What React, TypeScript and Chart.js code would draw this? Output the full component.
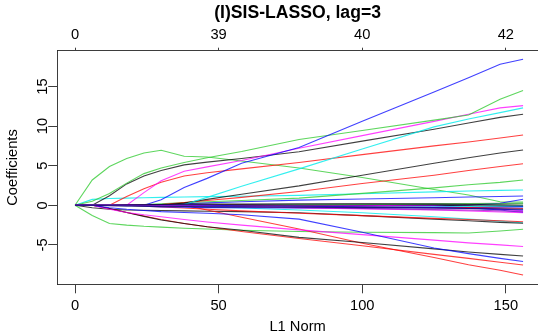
import { useEffect, useRef } from 'react';
import { Chart, registerables } from 'chart.js';

Chart.register(...registerables);

// L1 norm knots of the coefficient path
const L1_NORM = [0, 6, 12, 18, 24, 30, 38, 46, 58, 78, 100, 125, 137, 148, 156];

const X_TICKS = [0, 50, 100, 150];
const DF_LABELS = ['0', '39', '40', '42'];
const Y_TICKS = [-5, 0, 5, 10, 15];
const TITLE = '(I)SIS-LASSO, lag=3';
const X_LABEL = 'L1 Norm';
const Y_LABEL = 'Coefficients';

// positive paths
const BLUE_1 = [0, 0, 0, 0, 0, 0.7, 2.25, 3.4, 5.3, 7.3, 10.6, 14.3, 16.1, 17.8, 18.45];
const GREEN_1 = [0, 0.5, 1.5, 2.8, 4.0, 4.7, 5.4, 6.0, 6.8, 8.3, 9.45, 10.75, 11.4, 13.4, 14.5];
const MAGENTA_1 = [0, 0, 0, 0, 1.6, 3.1, 4.3, 4.85, 5.65, 7.2, 8.8, 10.6, 11.5, 12.3, 12.58];
const CYAN_1 = [0, 0, 0, 0, 0, 0, 0.1, 1.0, 2.4, 4.6, 7.1, 9.9, 10.9, 11.7, 12.3];
const BLACK_1 = [0, 0, 1.2, 2.7, 3.7, 4.4, 5.1, 5.45, 5.9, 6.77, 8.1, 9.6, 10.4, 11.1, 11.49];
const RED_1 = [0, 0, 0, 1.1, 2.1, 2.9, 3.7, 4.1, 4.6, 5.4, 6.4, 7.5, 8.0, 8.5, 8.88];
const BLACK_2 = [0, 0, 0, 0, 0, 0, 0.3, 0.75, 1.4, 2.45, 3.8, 5.3, 6.0, 6.6, 6.98];
const RED_2 = [0, 0, 0, 0, 0, 0.1, 0.35, 0.6, 1.0, 1.75, 2.75, 3.8, 4.4, 4.9, 5.25];
const GREEN_2 = [0, 0, 0, 0, 0.1, 0.2, 0.35, 0.45, 0.6, 0.9, 1.5, 2.2, 2.6, 2.9, 3.19];
const CYAN_2 = [0, 0.75, 0.85, 0.9, 0.95, 1.0, 1.05, 1.1, 1.15, 1.25, 1.45, 1.7, 1.8, 1.88, 1.93];
const BLUE_2 = [0, 0, 0, 0, 0, 0.1, 0.2, 0.3, 0.45, 0.65, 0.8, 0.95, 1.05, 1.12, 1.17];
const BLUE_3 = [0, 0, 0, 0, 0, 0, 0, 0, 0, 0, 0, 0, 0, 0.25, 0.76];
const GREEN_3 = [0, 3.2, 4.9, 5.9, 6.6, 6.95, 6.2, 6.1, 5.6, 4.7, 3.5, 2.0, 1.3, 0.45, 0.4];
const GRAY_1 = [0, 0, 0, 0, 0, 0, 0, 0, 0.05, 0.1, 0.15, 0.2, 0.22, 0.24, 0.25];

// negative paths
const BLUE_4 = [0, 0, -0.3, -0.5, -0.65, -0.8, -0.9, -1.0, -1.2, -1.75, -3.4, -5.4, -6.1, -6.7, -7.1];
const MAGENTA_2 = [0, 0, -0.5, -0.9, -1.2, -1.45, -1.8, -2.1, -2.5, -3.1, -3.7, -4.4, -4.75, -5.0, -5.2];
const BLACK_3 = [0, 0, -0.4, -0.9, -1.4, -1.85, -2.3, -2.7, -3.15, -4.05, -4.7, -5.5, -5.9, -6.2, -6.4];
const RED_3 = [0, 0, -0.4, -0.9, -1.35, -1.8, -2.3, -2.7, -3.3, -4.2, -5.1, -6.2, -6.7, -7.2, -7.54];
const RED_4 = [0, 0, 0, 0, 0, 0, 0, -0.6, -1.5, -3.0, -4.8, -6.6, -7.5, -8.2, -8.8];
const GREEN_4 = [0, -1.3, -2.3, -2.5, -2.65, -2.75, -2.9, -3.0, -3.15, -3.3, -3.4, -3.45, -3.5, -3.25, -3.03];
const RED_5 = [0, 0, 0, 0, -0.1, -0.2, -0.35, -0.5, -0.7, -1.0, -1.3, -1.65, -1.8, -1.95, -2.07];
const BLACK_4 = [0, -0.3, -0.5, -0.6, -0.62, -0.65, -0.7, -0.75, -0.8, -0.95, -1.3, -1.75, -1.95, -2.15, -2.27];
const CYAN_3 = [0, 0, 0, 0, 0, 0, -0.1, -0.2, -0.35, -0.6, -0.95, -1.45, -1.75, -2.0, -2.2];

// near-zero band
const NAVY_1 = [0, 0, -0.05, -0.1, -0.1, -0.15, -0.15, -0.2, -0.2, -0.25, -0.3, -0.35, -0.4, -0.45, -0.5];
const PURPLE_1 = [0, 0, 0, 0, 0, -0.05, -0.1, -0.15, -0.2, -0.3, -0.4, -0.55, -0.6, -0.7, -0.8];
const BLUE_5 = [0, 0, 0, 0, 0, 0, 0, 0, -0.05, -0.1, -0.2, -0.3, -0.4, -0.5, -0.6];
const BLACK_5 = [0, 0, 0, 0.05, 0.1, 0.1, 0.15, 0.15, 0.15, 0.2, 0.2, 0.15, 0.1, 0.05, 0];
const MAGENTA_3 = [0, 0, 0, 0, 0, 0, 0, -0.05, -0.15, -0.3, -0.45, -0.6, -0.7, -0.85, -0.95];
const RED_6 = [0, 0, 0, 0, 0, 0, 0, 0, 0, -0.1, -0.2, -0.3, -0.3, -0.35, -0.4];
const GREEN_5 = [0, 0, 0, 0, 0, 0, 0, 0, 0, 0.05, 0.1, 0.15, 0.2, 0.2, 0.2];
const BLUE_6 = [0, 0, 0, 0, -0.1, -0.2, -0.25, -0.3, -0.3, -0.35, -0.35, -0.3, -0.3, -0.25, -0.2];
const CYAN_4 = [0, 0, 0, 0, 0, 0, 0, -0.05, -0.1, -0.15, -0.2, -0.2, -0.15, -0.1, -0.1];
const MAGENTA_4 = [0, 0, 0, 0, 0, 0, 0, 0, 0, 0, 0, -0.1, -0.3, -0.5, -0.7];
const BLACK_6 = [0, 0, 0, 0, 0, 0, 0, 0, 0, 0, 0, 0, -0.05, -0.1, -0.15];
const BLUE_7 = [0, 0, 0, 0, 0, 0, 0, 0, 0, 0, 0, -0.05, -0.3, -0.6, -0.9];

const COLORS: Record<string, string> = {
  black: 'rgba(0,0,0,0.75)',
  red: 'rgba(255,0,0,0.75)',
  green: 'rgba(40,200,40,0.75)',
  blue: 'rgba(0,0,255,0.75)',
  cyan: 'rgba(0,235,235,0.8)',
  magenta: 'rgba(255,0,255,0.75)',
  gray: 'rgba(90,90,90,0.7)',
  navy: 'rgba(20,20,110,0.85)',
  purple: 'rgba(150,30,200,0.8)',
};

const SERIES: [string, number[]][] = [
  ['navy', NAVY_1], ['purple', PURPLE_1], ['blue', BLUE_5], ['black', BLACK_5],
  ['magenta', MAGENTA_3], ['red', RED_6], ['green', GREEN_5], ['blue', BLUE_6],
  ['cyan', CYAN_4], ['magenta', MAGENTA_4], ['black', BLACK_6], ['blue', BLUE_7],
  ['blue', BLUE_1], ['green', GREEN_1], ['magenta', MAGENTA_1], ['cyan', CYAN_1],
  ['black', BLACK_1], ['red', RED_1], ['black', BLACK_2], ['red', RED_2],
  ['green', GREEN_2], ['cyan', CYAN_2], ['blue', BLUE_2], ['blue', BLUE_3],
  ['green', GREEN_3], ['gray', GRAY_1],
  ['blue', BLUE_4], ['magenta', MAGENTA_2], ['black', BLACK_3], ['red', RED_3],
  ['red', RED_4], ['green', GREEN_4], ['red', RED_5], ['black', BLACK_4], ['cyan', CYAN_3],
];

const X_MIN = -6.2;
const X_MAX = 161.2;
const Y_MIN = -9.975;
const Y_MAX = 19.52;

export default function App() {
  const ref = useRef<HTMLCanvasElement>(null);

  useEffect(() => {
    if (!ref.current) return;
    const FAMILY = '"Liberation Sans", Arial, Helvetica, sans-serif';
    const font = { family: FAMILY, size: 14.7 };
    const axisColor = 'rgba(40,40,40,0.9)';

    const yRotLabels = {
      id: 'yRotLabels',
      afterDraw(chart: any) {
        const ys = chart.scales.y;
        const ctx = chart.ctx;
        ctx.save();
        ctx.fillStyle = '#000';
        ctx.font = `14.7px ${FAMILY}`;
        ctx.textAlign = 'center';
        ctx.textBaseline = 'alphabetic';
        for (const v of Y_TICKS) {
          const py = ys.getPixelForValue(v);
          ctx.save();
          ctx.translate(47, py);
          ctx.rotate(-Math.PI / 2);
          ctx.fillText(String(v), 0, 0);
          ctx.restore();
        }
        ctx.restore();
      },
    };

    const setXTicks = (s: any) => {
      s.ticks = X_TICKS.map((v) => ({ value: v }));
    };

    const chart = new Chart(ref.current, {
      type: 'line',
      data: {
        datasets: SERIES.map(([c, vals]) => ({
          data: L1_NORM.map((x, i) => ({ x, y: vals[i] })),
          borderColor: COLORS[c],
          backgroundColor: COLORS[c],
          borderWidth: 1.1,
          pointRadius: 0,
          tension: 0,
          fill: false,
        })),
      },
      options: {
        responsive: false,
        animation: false,
        devicePixelRatio: 1,
        layout: { padding: 0 },
        plugins: {
          legend: { display: false },
          tooltip: { enabled: false },
          title: {
            display: true,
            text: TITLE,
            fullSize: false,
            color: '#000',
            font: { family: FAMILY, size: 17.6, weight: 'bold' },
            padding: { top: 3, bottom: 0 },
          },
        },
        scales: {
          x: {
            type: 'linear',
            position: 'bottom',
            min: X_MIN,
            max: X_MAX,
            afterBuildTicks: setXTicks,
            afterFit: (s: any) => { s.height = 51.7; },
            ticks: { font, color: '#000', padding: 4, maxRotation: 0, autoSkip: false, callback: (v: any) => String(v) },
            grid: { drawOnChartArea: false, drawTicks: true, tickLength: 9, color: axisColor },
            border: { display: true, color: axisColor, width: 1 },
            title: { display: true, text: X_LABEL, font, color: '#000', padding: 0 },
          },
          x2: {
            type: 'linear',
            position: 'top',
            min: X_MIN,
            max: X_MAX,
            afterBuildTicks: setXTicks,
            afterFit: (s: any) => { s.height = 26.58; },
            ticks: { font, color: '#000', padding: 4, maxRotation: 0, autoSkip: false, callback: (_v: any, i: number) => DF_LABELS[i] },
            grid: { drawOnChartArea: false, drawTicks: true, tickLength: 3, color: axisColor },
            border: { display: true, color: axisColor, width: 1 },
          },
          y: {
            type: 'linear',
            min: Y_MIN,
            max: Y_MAX,
            afterBuildTicks: (s: any) => { s.ticks = Y_TICKS.map((v) => ({ value: v })); },
            afterFit: (s: any) => { s.width = 57.2; },
            ticks: { display: false },
            grid: { drawOnChartArea: false, drawTicks: true, tickLength: 9, color: axisColor },
            border: { display: true, color: axisColor, width: 1 },
            title: { display: true, text: Y_LABEL, font, color: '#000', padding: { top: 4, bottom: 0 } },
          },
        },
      },
      plugins: [yRotLabels],
    } as any);

    return () => chart.destroy();
  }, []);

  return (
    <div style={{ position: 'absolute', left: 0, top: 0, width: 538, height: 336, background: '#fff' }}>
      <canvas ref={ref} width={538} height={336} style={{ width: 538, height: 336, display: 'block' }} />
    </div>
  );
}
